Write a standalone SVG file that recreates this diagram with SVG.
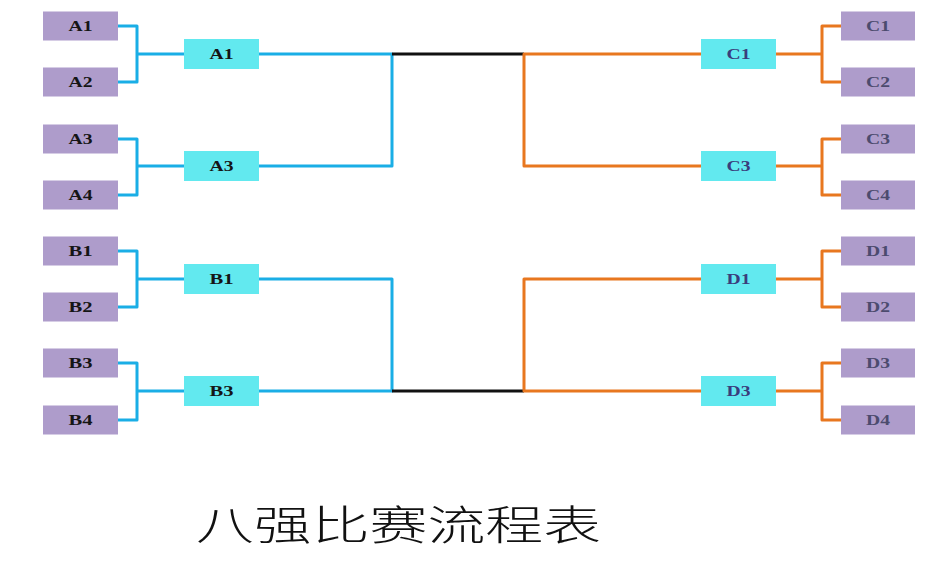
<svg xmlns="http://www.w3.org/2000/svg" width="946" height="564" viewBox="0 0 946 564">
<style>
.p{fill:#ae9ccb}
.c{fill:#62e9ef}
.t{font-family:"Liberation Serif","Times New Roman",serif;font-weight:bold;font-size:14px;text-anchor:middle}
.l{fill:#151515}
.rc{fill:#3a3d7c}
.rp{fill:#4c4b6e}
.b{fill:none;stroke:#1aaee6;stroke-width:3;stroke-linejoin:round}
.o{fill:none;stroke:#e8771f;stroke-width:3;stroke-linejoin:round}
.k{fill:none;stroke:#111;stroke-width:3}
.title{font-family:"Noto Sans CJK SC","Noto Sans",sans-serif;font-weight:300;font-size:41px;fill:#111}
</style>
<rect width="946" height="564" fill="#fff"/>
<g id="connectors">
<path class="b" d="M118,26H137V82H118M137,54H184"/>
<path class="b" d="M118,139H137V195H118M137,166H184"/>
<path class="b" d="M118,251H137V307H118M137,279H184"/>
<path class="b" d="M118,363H137V420H118M137,391H184"/>
<path class="b" d="M259,54H392V166H259"/>
<path class="b" d="M259,279H392V391H259"/>
<path class="k" d="M392,54H524M392,391H524"/>
<path class="o" d="M701,54H524V166H701"/>
<path class="o" d="M701,279H524V391H701"/>
<path class="o" d="M841,26H822V82H841M822,54H776"/>
<path class="o" d="M841,139H822V195H841M822,166H776"/>
<path class="o" d="M841,251H822V307H841M822,279H776"/>
<path class="o" d="M841,363H822V420H841M822,391H776"/>
</g>
<g id="nA1"><rect class="p" x="43" y="11.5" width="75" height="29"/><text class="t l" x="80.5" y="31" textLength="24" lengthAdjust="spacingAndGlyphs">A1</text></g>
<g id="nA2"><rect class="p" x="43" y="67.5" width="75" height="29"/><text class="t l" x="80.5" y="87" textLength="24" lengthAdjust="spacingAndGlyphs">A2</text></g>
<g id="nA3"><rect class="p" x="43" y="124.5" width="75" height="29"/><text class="t l" x="80.5" y="144" textLength="24" lengthAdjust="spacingAndGlyphs">A3</text></g>
<g id="nA4"><rect class="p" x="43" y="180.5" width="75" height="29"/><text class="t l" x="80.5" y="200" textLength="24" lengthAdjust="spacingAndGlyphs">A4</text></g>
<g id="nB1"><rect class="p" x="43" y="236.5" width="75" height="29"/><text class="t l" x="80.5" y="256" textLength="24" lengthAdjust="spacingAndGlyphs">B1</text></g>
<g id="nB2"><rect class="p" x="43" y="292.5" width="75" height="29"/><text class="t l" x="80.5" y="312" textLength="24" lengthAdjust="spacingAndGlyphs">B2</text></g>
<g id="nB3"><rect class="p" x="43" y="348.5" width="75" height="29"/><text class="t l" x="80.5" y="368" textLength="24" lengthAdjust="spacingAndGlyphs">B3</text></g>
<g id="nB4"><rect class="p" x="43" y="405.5" width="75" height="29"/><text class="t l" x="80.5" y="425" textLength="24" lengthAdjust="spacingAndGlyphs">B4</text></g>
<g id="wA1"><rect class="c" x="184" y="39" width="75" height="30"/><text class="t l" x="221.5" y="59" textLength="24" lengthAdjust="spacingAndGlyphs">A1</text></g>
<g id="wA3"><rect class="c" x="184" y="151" width="75" height="30"/><text class="t l" x="221.5" y="171" textLength="24" lengthAdjust="spacingAndGlyphs">A3</text></g>
<g id="wB1"><rect class="c" x="184" y="264" width="75" height="30"/><text class="t l" x="221.5" y="284" textLength="24" lengthAdjust="spacingAndGlyphs">B1</text></g>
<g id="wB3"><rect class="c" x="184" y="376" width="75" height="30"/><text class="t l" x="221.5" y="396" textLength="24" lengthAdjust="spacingAndGlyphs">B3</text></g>
<g id="wC1"><rect class="c" x="701" y="39" width="75" height="30"/><text class="t rc" x="738.5" y="59" textLength="24" lengthAdjust="spacingAndGlyphs">C1</text></g>
<g id="wC3"><rect class="c" x="701" y="151" width="75" height="30"/><text class="t rc" x="738.5" y="171" textLength="24" lengthAdjust="spacingAndGlyphs">C3</text></g>
<g id="wD1"><rect class="c" x="701" y="264" width="75" height="30"/><text class="t rc" x="738.5" y="284" textLength="24" lengthAdjust="spacingAndGlyphs">D1</text></g>
<g id="wD3"><rect class="c" x="701" y="376" width="75" height="30"/><text class="t rc" x="738.5" y="396" textLength="24" lengthAdjust="spacingAndGlyphs">D3</text></g>
<g id="nC1"><rect class="p" x="841" y="11.5" width="74" height="29"/><text class="t rp" x="878" y="31" textLength="24" lengthAdjust="spacingAndGlyphs">C1</text></g>
<g id="nC2"><rect class="p" x="841" y="67.5" width="74" height="29"/><text class="t rp" x="878" y="87" textLength="24" lengthAdjust="spacingAndGlyphs">C2</text></g>
<g id="nC3"><rect class="p" x="841" y="124.5" width="74" height="29"/><text class="t rp" x="878" y="144" textLength="24" lengthAdjust="spacingAndGlyphs">C3</text></g>
<g id="nC4"><rect class="p" x="841" y="180.5" width="74" height="29"/><text class="t rp" x="878" y="200" textLength="24" lengthAdjust="spacingAndGlyphs">C4</text></g>
<g id="nD1"><rect class="p" x="841" y="236.5" width="74" height="29"/><text class="t rp" x="878" y="256" textLength="24" lengthAdjust="spacingAndGlyphs">D1</text></g>
<g id="nD2"><rect class="p" x="841" y="292.5" width="74" height="29"/><text class="t rp" x="878" y="312" textLength="24" lengthAdjust="spacingAndGlyphs">D2</text></g>
<g id="nD3"><rect class="p" x="841" y="348.5" width="74" height="29"/><text class="t rp" x="878" y="368" textLength="24" lengthAdjust="spacingAndGlyphs">D3</text></g>
<g id="nD4"><rect class="p" x="841" y="405.5" width="74" height="29"/><text class="t rp" x="878" y="425" textLength="24" lengthAdjust="spacingAndGlyphs">D4</text></g>
<text class="title" x="196" y="540" textLength="405" lengthAdjust="spacingAndGlyphs">八强比赛流程表</text>
</svg>
